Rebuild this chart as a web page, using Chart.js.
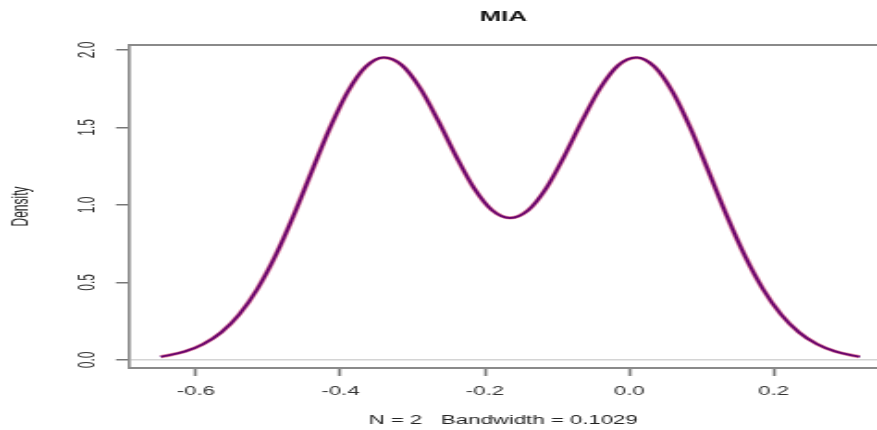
<!DOCTYPE html>
<html lang="en">
<head>
  <meta charset="UTF-8">
  <title>MIA density</title>
  <style>
    html, body {
      margin: 0;
      padding: 0;
      background: #ffffff;
      overflow: hidden;
    }
    /* the original R plot was stretched sideways, so draw it narrow and widen it */
    .stretch {
      width: 474px;
      height: 430px;
      transform: scale(1.8502, 1);
      transform-origin: 0 0;
    }
    canvas {
      display: block;
    }
  </style>
</head>
<body>
  <div class="stretch">
    <canvas id="densityChart" width="474" height="430"></canvas>
  </div>

  <script src="https://cdn.jsdelivr.net/npm/chart.js"></script>
  <script>
    // density estimate
    const xPoints = [-0.649, -0.640, -0.615, -0.590, -0.565, -0.540, -0.515, -0.490, -0.465, -0.440,
                     -0.415, -0.390, -0.365, -0.340, -0.315, -0.290, -0.265, -0.240, -0.215, -0.190,
                     -0.165, -0.140, -0.115, -0.090, -0.065, -0.040, -0.015, 0.010, 0.035, 0.060,
                     0.085, 0.110, 0.135, 0.160, 0.185, 0.210, 0.235, 0.260, 0.285, 0.310, 0.319];
    const densityValues = [0.021, 0.028, 0.055, 0.102, 0.178, 0.294, 0.458, 0.672, 0.930, 1.213,
                           1.492, 1.729, 1.891, 1.951, 1.902, 1.756, 1.546, 1.315, 1.108, 0.966,
                           0.916, 0.966, 1.108, 1.315, 1.546, 1.756, 1.902, 1.951, 1.891, 1.729,
                           1.492, 1.213, 0.930, 0.672, 0.458, 0.294, 0.178, 0.102, 0.055, 0.028, 0.021];
    const xTickValues = [-0.6, -0.4, -0.2, 0.0, 0.2];
    const yTickValues = [0.0, 0.5, 1.0, 1.5, 2.0];
    const titleText = 'MIA';
    const subtitleText = 'N = 2   Bandwidth = 0.1029';
    const yTitleText = 'Density';

    const points = xPoints.map((x, i) => ({ x: x, y: densityValues[i] }));

    // R draws a full box, Chart.js only gives us the left and bottom edges
    const topBorder = {
      id: 'topBorder',
      afterDraw(chart) {
        const { ctx, chartArea } = chart;
        ctx.save();
        ctx.strokeStyle = '#8a8a8a';
        ctx.lineWidth = 2;
        ctx.beginPath();
        ctx.moveTo(chartArea.left, chartArea.top);
        ctx.lineTo(chartArea.right, chartArea.top);
        ctx.stroke();
        ctx.restore();
      }
    };

    Chart.defaults.font.family = '"Liberation Sans", Arial, sans-serif';

    const ctx = document.getElementById('densityChart').getContext('2d');
    new Chart(ctx, {
      type: 'line',
      data: {
        datasets: [
          {
            label: 'blue',
            data: points,
            borderColor: 'rgb(30, 0, 150)',
            borderWidth: 2,
            pointRadius: 0,
            cubicInterpolationMode: 'monotone',
            order: 2
          },
          {
            label: 'red',
            data: points,
            borderColor: 'rgba(200, 10, 60, 0.45)',
            borderWidth: 3.3,
            pointRadius: 0,
            cubicInterpolationMode: 'monotone',
            order: 1
          }
        ]
      },
      options: {
        responsive: false,
        animation: false,
        events: [],
        layout: { padding: 0 },
        plugins: {
          legend: { display: false },
          tooltip: { enabled: false },
          title: {
            display: true,
            text: titleText,
            fullSize: false,
            color: '#111',
            font: { size: 14, weight: 'bold' },
            padding: { top: 8.3, bottom: 19.9 }
          }
        },
        scales: {
          x: {
            type: 'linear',
            min: -0.692,
            max: 0.343,
            afterBuildTicks: s => { s.ticks = xTickValues.map(v => ({ value: v })); },
            afterFit: s => { s.height = 62; },
            grid: {
              drawOnChartArea: false,
              tickLength: 8,
              tickColor: '#777',
              tickWidth: 1.6
            },
            border: { color: '#8a8a8a', width: 2 },
            ticks: {
              padding: 8,
              autoSkip: false,
              maxRotation: 0,
              color: '#333',
              font: { size: 12 },
              callback: v => v.toFixed(1)
            },
            title: {
              display: true,
              text: subtitleText,
              color: '#222',
              font: { size: 12 },
              padding: { top: 0, bottom: 1.8 }
            }
          },
          y: {
            type: 'linear',
            min: -0.052,
            max: 2.032,
            afterBuildTicks: s => { s.ticks = yTickValues.map(v => ({ value: v })); },
            afterFit: s => { s.width = 70; },
            grid: {
              color: c => (c.tick && c.tick.value === 0) ? '#d4d4d4' : 'rgba(0,0,0,0)',
              lineWidth: 1.5,
              tickLength: 7.3,
              tickColor: '#777',
              tickWidth: 1.5
            },
            border: { color: '#8a8a8a', width: 1.6 },
            ticks: {
              padding: 6.8,
              minRotation: 90,
              maxRotation: 90,
              crossAlign: 'center',
              color: '#333',
              font: { size: 12 },
              callback: v => v.toFixed(1)
            },
            title: {
              display: true,
              text: yTitleText,
              color: '#222',
              font: { size: 12 },
              padding: { top: 4.7, bottom: 0 }
            }
          }
        }
      },
      plugins: [topBorder]
    });
  </script>
</body>
</html>
